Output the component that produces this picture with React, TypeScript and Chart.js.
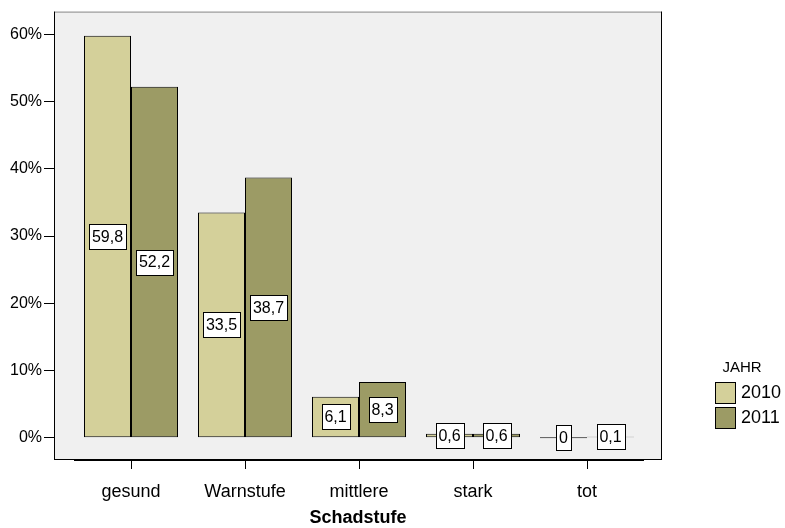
import { useEffect, useRef } from 'react';
import { Chart, registerables } from 'chart.js';

Chart.register(...registerables);

const categories = ['gesund', 'Warnstufe', 'mittlere', 'stark', 'tot'];
const seriesNames = ['2010', '2011'];
const values2010 = [59.8, 33.5, 6.1, 0.6, 0];
const values2011 = [52.2, 38.7, 8.3, 0.6, 0.1];
const yTicks = [0, 10, 20, 30, 40, 50, 60];
const legendTitle = 'JAHR';
const xTitle = 'Schadstufe';

const COLORS = ['#D4D09A', '#9C9B65'];
const FONT = '"Liberation Sans", Arial, Helvetica, sans-serif';

const fmt = (v: number) => String(v).replace('.', ',');

const customPlugin = {
  id: 'spssLook',
  beforeDraw(chart: any) {
    const { ctx, chartArea: a } = chart;
    ctx.save();
    ctx.fillStyle = '#F0F0F0';
    ctx.fillRect(a.left, a.top, a.right - a.left, a.bottom - a.top);
    ctx.restore();
  },
  afterDatasetsDraw(chart: any) {
    const { ctx, chartArea: a } = chart;
    const xs = chart.scales.x;
    ctx.save();
    // frame
    ctx.lineWidth = 1;
    ctx.strokeStyle = '#888888';
    ctx.beginPath();
    ctx.moveTo(a.left, a.top + 0.5);
    ctx.lineTo(a.right, a.top + 0.5);
    ctx.stroke();
    ctx.strokeStyle = '#000000';
    ctx.beginPath();
    ctx.moveTo(a.left + 0.5, a.top);
    ctx.lineTo(a.left + 0.5, a.bottom);
    ctx.moveTo(a.right - 0.5, a.top);
    ctx.lineTo(a.right - 0.5, a.bottom);
    ctx.moveTo(a.left, a.bottom - 0.5);
    ctx.lineTo(a.right, a.bottom - 0.5);
    ctx.stroke();
    // category axis line
    ctx.lineWidth = 2;
    ctx.beginPath();
    ctx.moveTo(Math.round(xs.getPixelForValue(-0.5)), a.bottom);
    ctx.lineTo(Math.round(xs.getPixelForValue(categories.length - 0.5)), a.bottom);
    ctx.stroke();
    // category tick marks
    ctx.lineWidth = 1;
    ctx.beginPath();
    categories.forEach((_, i) => {
      const px = Math.round(xs.getPixelForValue(i)) + 0.5;
      ctx.moveTo(px, a.bottom);
      ctx.lineTo(px, a.bottom + 9);
    });
    ctx.stroke();

    // value labels
    ctx.font = '16px ' + FONT;
    ctx.textAlign = 'center';
    ctx.textBaseline = 'middle';
    chart.data.datasets.forEach((ds: any, di: number) => {
      const meta = chart.getDatasetMeta(di);
      meta.data.forEach((el: any, i: number) => {
        const p = el.getProps(['x', 'y', 'base'], true);
        const cy = (p.y + p.base) / 2;
        const txt = fmt(ds.data[i].y);
        const w = Math.round(ctx.measureText(txt).width + 6);
        const h = 25;
        const bx = Math.round(p.x - w / 2) + 0.5;
        const by = Math.round(cy - h / 2) + 0.5;
        ctx.fillStyle = '#FFFFFF';
        ctx.fillRect(bx, by, w, h);
        ctx.lineWidth = 1;
        ctx.strokeStyle = '#000000';
        ctx.strokeRect(bx, by, w, h);
        ctx.fillStyle = '#000000';
        ctx.fillText(txt, p.x, cy + 1);
      });
    });

    // legend
    ctx.fillStyle = '#000000';
    ctx.font = '15px ' + FONT;
    ctx.textAlign = 'center';
    ctx.fillText(legendTitle, 742, 368);
    ctx.font = '18px ' + FONT;
    ctx.textAlign = 'left';
    chart.data.datasets.forEach((ds: any, di: number) => {
      const y = 382 + di * 25;
      ctx.fillStyle = ds.backgroundColor;
      ctx.fillRect(715, y, 21, 21);
      ctx.strokeStyle = '#000000';
      ctx.lineWidth = 1;
      ctx.strokeRect(715.5, y + 0.5, 20, 21);
      ctx.fillStyle = '#000000';
      ctx.fillText(ds.label, 741, y + 11);
    });
    ctx.restore();
  },
};

export default function App() {
  const ref = useRef<HTMLCanvasElement | null>(null);
  useEffect(() => {
    if (!ref.current) return;
    const chart = new Chart(ref.current, {
      type: 'bar',
      data: {
        datasets: [
          {
            label: seriesNames[0],
            data: values2010.map((v, i) => ({ x: i, y: v })),
            backgroundColor: COLORS[0],
            borderColor: '#000000',
            borderWidth: 1,
            borderSkipped: false,
            minBarLength: 1,
          },
          {
            label: seriesNames[1],
            data: values2011.map((v, i) => ({ x: i, y: v })),
            backgroundColor: COLORS[1],
            borderColor: '#000000',
            borderWidth: 1,
            borderSkipped: false,
            minBarLength: 1,
          },
        ],
      },
      options: {
        responsive: false,
        animation: false,
        devicePixelRatio: 1,
        categoryPercentage: 94 / 114,
        barPercentage: 1,
        layout: { padding: { left: 0, right: 123, top: 7, bottom: 0 } },
        plugins: { legend: { display: false }, tooltip: { enabled: false } },
        scales: {
          x: {
            type: 'linear',
            offset: false,
            min: -77 / 114,
            max: -77 / 114 + 608 / 114,
            afterBuildTicks: (s: any) => {
              s.ticks = categories.map((_, i) => ({ value: i }));
            },
            afterFit: (s: any) => {
              s.height = 68;
            },
            grid: {
              offset: false,
              drawOnChartArea: false,
              drawTicks: true,
              tickLength: 9,
              color: '#000000',
              lineWidth: 1,
            },
            border: { display: false },
            ticks: {
              autoSkip: false,
              maxRotation: 0,
              padding: 12,
              color: '#000000',
              font: { family: FONT, size: 18 },
              callback: (v: any) => categories[Number(v)] ?? '',
            },
            title: {
              display: true,
              text: xTitle,
              color: '#000000',
              font: { family: FONT, size: 18, weight: 'bold', lineHeight: 1 },
              padding: { top: 0, bottom: 0.5 },
            },
          },
          y: {
            type: 'linear',
            min: -3.3129,
            max: 63.386,
            afterBuildTicks: (s: any) => {
              s.ticks = yTicks.map((v) => ({ value: v }));
            },
            afterFit: (s: any) => {
              s.width = 54;
            },
            grid: {
              drawOnChartArea: false,
              drawTicks: true,
              tickLength: 10,
              color: '#000000',
              lineWidth: 1,
            },
            border: { display: false },
            ticks: {
              padding: 2,
              color: '#000000',
              font: { family: FONT, size: 16 },
              callback: (v: any) => v + '%',
            },
          },
        },
      },
      plugins: [customPlugin],
    } as any);
    return () => chart.destroy();
  }, []);
  return (
    <div style={{ position: 'fixed', left: 0, top: 0, width: 785, height: 528, background: '#FFFFFF' }}>
      <canvas ref={ref} width={785} height={528} style={{ display: 'block' }} />
    </div>
  );
}
